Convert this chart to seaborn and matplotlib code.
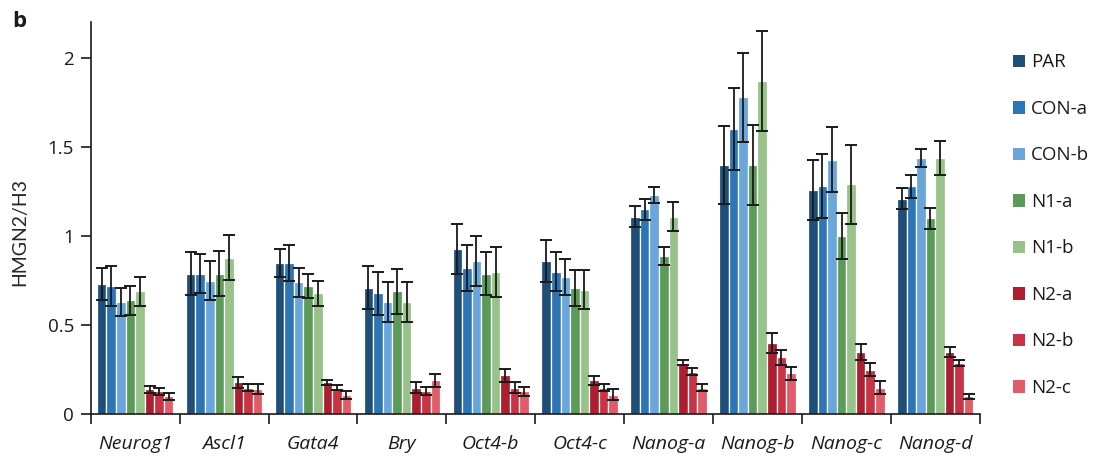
import numpy as np
import pandas as pd
import matplotlib
matplotlib.use("Agg")
import matplotlib.pyplot as plt
from matplotlib.patches import Patch
from matplotlib.ticker import FixedLocator, NullFormatter
import seaborn as sns

genes = ["Neurog1", "Ascl1", "Gata4", "Bry", "Oct4-b", "Oct4-c",
         "Nanog-a", "Nanog-b", "Nanog-c", "Nanog-d"]
samples = ["PAR", "CON-a", "CON-b", "N1-a", "N1-b", "N2-a", "N2-b", "N2-c"]
colors = ["#1f4e79", "#2e75b6", "#6aa6da", "#5b9a57", "#97c38b",
          "#ab1f30", "#c93444", "#e05c69"]

# mean HMGN2/H3 ratio per sample (rows follow samples, columns follow genes)
par   = [0.73, 0.79, 0.85, 0.71, 0.93, 0.86, 1.11, 1.40, 1.26, 1.21]
con_a = [0.72, 0.79, 0.85, 0.68, 0.82, 0.80, 1.15, 1.60, 1.28, 1.28]
con_b = [0.63, 0.75, 0.74, 0.63, 0.86, 0.77, 1.23, 1.78, 1.43, 1.44]
n1_a  = [0.64, 0.79, 0.72, 0.69, 0.79, 0.71, 0.89, 1.40, 1.00, 1.10]
n1_b  = [0.69, 0.88, 0.68, 0.63, 0.80, 0.70, 1.11, 1.87, 1.29, 1.44]
n2_a  = [0.14, 0.18, 0.18, 0.15, 0.22, 0.19, 0.29, 0.40, 0.35, 0.35]
n2_b  = [0.13, 0.15, 0.15, 0.13, 0.15, 0.15, 0.24, 0.32, 0.25, 0.29]
n2_c  = [0.10, 0.14, 0.11, 0.19, 0.13, 0.11, 0.15, 0.23, 0.15, 0.10]

# standard deviation for each bar
par_sd   = [0.09, 0.12, 0.08, 0.12, 0.14, 0.12, 0.06, 0.22, 0.17, 0.06]
con_a_sd = [0.11, 0.11, 0.10, 0.12, 0.13, 0.11, 0.06, 0.23, 0.18, 0.065]
con_b_sd = [0.08, 0.11, 0.08, 0.11, 0.14, 0.10, 0.045, 0.25, 0.18, 0.05]
n1_a_sd  = [0.08, 0.125, 0.07, 0.125, 0.12, 0.10, 0.05, 0.225, 0.13, 0.06]
n1_b_sd  = [0.08, 0.125, 0.07, 0.11, 0.14, 0.11, 0.08, 0.28, 0.22, 0.095]
n2_a_sd  = [0.02, 0.03, 0.015, 0.03, 0.037, 0.025, 0.015, 0.058, 0.045, 0.03]
n2_b_sd  = [0.02, 0.02, 0.015, 0.024, 0.03, 0.02, 0.019, 0.043, 0.037, 0.017]
n2_c_sd  = [0.02, 0.028, 0.022, 0.037, 0.026, 0.03, 0.022, 0.037, 0.036, 0.015]

means = [par, con_a, con_b, n1_a, n1_b, n2_a, n2_b, n2_c]
sds = [par_sd, con_a_sd, con_b_sd, n1_a_sd, n1_b_sd, n2_a_sd, n2_b_sd, n2_c_sd]

df = pd.DataFrame(
    [(g, s, m[i]) for s, m in zip(samples, means) for i, g in enumerate(genes)],
    columns=["gene", "sample", "ratio"],
)

sns.set_theme(style="white")
plt.rcParams["font.family"] = ["Open Sans", "DejaVu Sans"]
plt.rcParams["text.color"] = "#1a1a1a"

fig = plt.figure(figsize=(10.97, 4.61), dpi=100)
ax = fig.add_axes([0.0827, 0.1013, 0.8103, 0.8503])

sns.barplot(data=df, x="gene", y="ratio", hue="sample", order=genes,
            hue_order=samples, palette=colors, width=0.86, errorbar=None,
            edgecolor="white", linewidth=0.9, saturation=1, legend=False, ax=ax)

# error bars placed on the drawn bars
for container, sd in zip(ax.containers, sds):
    xs = [b.get_x() + b.get_width() / 2 for b in container]
    hs = [b.get_height() for b in container]
    ax.errorbar(xs, hs, yerr=sd, fmt="none", ecolor="#1a1a1a",
                elinewidth=1.3, capsize=4.3, capthick=1.4, zorder=5)

ax.set_xlim(-0.5, len(genes) - 0.5)
ax.set_ylim(0, 2.2)
ax.set_yticks([0, 0.5, 1, 1.5, 2])
ax.set_yticklabels(["0", "0.5", "1", "1.5", "2"])

# boundary ticks between gene groups, labels centred on the groups
ax.xaxis.set_major_locator(FixedLocator(np.arange(-0.5, len(genes), 1.0)))
ax.xaxis.set_major_formatter(NullFormatter())
ax.xaxis.set_minor_locator(FixedLocator(np.arange(len(genes))))
ax.set_xticklabels(genes, minor=True, fontstyle="italic")
ax.tick_params(axis="x", which="major", length=7, width=1.2, color="#1a1a1a",
               direction="out", bottom=True)
ax.tick_params(axis="x", which="minor", length=0, pad=15, labelsize=14,
               labelcolor="#1a1a1a")
ax.tick_params(axis="y", length=7, width=1.2, color="#1a1a1a", direction="out",
               left=True, labelsize=13.5, labelcolor="#1a1a1a", pad=5)

for side in ("top", "right"):
    ax.spines[side].set_visible(False)
for side in ("left", "bottom"):
    ax.spines[side].set_color("#1a1a1a")
    ax.spines[side].set_linewidth(1.2)

ax.set_xlabel("")
ax.set_ylabel("HMGN2/H3", fontsize=14, family=["Lato", "DejaVu Sans"])
ax.yaxis.set_label_coords(-0.0705, 0.465)

handles = [Patch(facecolor=c, edgecolor="none") for c in colors]
fig.legend(handles, samples, loc="center left", bbox_to_anchor=(0.9234, 0.5115),
           frameon=False, fontsize=13.5, handlelength=0.66, handleheight=0.66,
           handletextpad=0.3, labelspacing=1.52, borderpad=0, borderaxespad=0)

fig.text(0.011, 0.954, "b", fontsize=16, fontweight="bold", ha="left", va="center")

fig.savefig("out.png", dpi=100)
